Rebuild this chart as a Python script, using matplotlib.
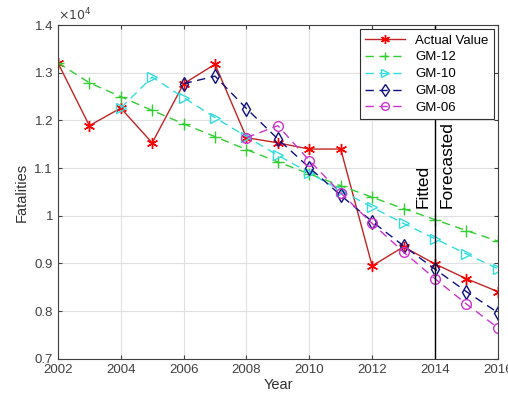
import numpy as np
import matplotlib
matplotlib.use('Agg')
import matplotlib.pyplot as plt
from matplotlib.ticker import FuncFormatter

plt.rcParams['font.family'] = ['Liberation Sans', 'DejaVu Sans']

# data (fatalities)
years = np.arange(2002, 2017)
actual = [13210, 11890, 12260, 11530, 12770, 13180, 11640, 11530, 11400, 11400,
          8950, 9350, 8990, 8680, 8410]

gm12_years = np.arange(2002, 2017)
gm12 = [13210, 12790, 12500, 12210, 11930, 11660, 11390, 11130, 10880, 10630,
        10390, 10150, 9920, 9690, 9470]

gm10_years = np.arange(2004, 2017)
gm10 = [12260, 12910, 12480, 12060, 11660, 11270, 10900, 10530, 10180, 9840,
        9520, 9200, 8890]

gm08_years = np.arange(2006, 2017)
gm08 = [12770, 12930, 12250, 11610, 11010, 10430, 9880, 9370, 8880, 8410, 7970]

gm06_years = np.arange(2008, 2017)
gm06 = [11640, 11890, 11160, 10480, 9840, 9240, 8680, 8150, 7650]

fig = plt.figure(figsize=(5.08, 4.05), dpi=100)
ax = fig.add_axes([0.114, 0.114, 0.866, 0.824])

ax.plot(years, actual, '-', color='#c02525', lw=1.0, marker=(6, 2, 0), ms=8,
        mew=1.0, mec='red', mfc='red', label='Actual Value')
ax.plot(gm12_years, gm12, '--', color='#33cc33', lw=1.0, marker='+', ms=8,
        mew=1.0, dashes=(6, 4), label='GM-12')
ax.plot(gm10_years, gm10, '--', color='#33dddd', lw=1.0, marker='>', ms=7,
        mfc='none', dashes=(6, 4), label='GM-10')
ax.plot(gm08_years, gm08, '--', color='#101080', lw=1.0, marker='d', ms=7.5,
        mfc='none', dashes=(6, 4), label='GM-08')
ax.plot(gm06_years, gm06, '--', color='#cc33cc', lw=1.0, marker='o', ms=7,
        mfc='none', dashes=(6, 4), label='GM-06')

# separator between fitted and forecasted
ax.axvline(2014, color='black', lw=1.0)
ax.text(2013.85, 10170, 'Fitted', rotation=90, ha='right', va='bottom', fontsize=12.5)
ax.text(2014.15, 10170, 'Forecasted', rotation=90, ha='left', va='bottom', fontsize=12.5)

ax.set_xlim(2002, 2016)
ax.set_ylim(7000, 14000)
ax.set_xticks(np.arange(2002, 2017, 2))
ax.set_yticks(np.arange(7000, 14001, 1000))
ax.yaxis.set_major_formatter(FuncFormatter(lambda v, p: '%g' % (v / 1e4)))
ax.text(0.0, 1.005, r'$\times 10^4$', transform=ax.transAxes, fontsize=9,
        color='#404040', ha='left', va='bottom')

ax.grid(True, color='#e0e0e0', lw=0.8)
ax.set_axisbelow(True)
ax.tick_params(direction='in', labelsize=9.5, colors='#404040', length=3,
               top=True, right=True)
for s in ax.spines.values():
    s.set_color('#404040')

ax.set_xlabel('Year', fontsize=10.5, color='#303030', labelpad=2)
ax.set_ylabel('Fatalities', fontsize=10.5, color='#303030', labelpad=4)

leg = ax.legend(loc='upper right', fontsize=9.5, fancybox=False, framealpha=1,
                edgecolor='#303030', handlelength=3.0, borderaxespad=0.3,
                labelspacing=0.35, markerscale=0.8)
leg.get_frame().set_linewidth(0.8)

fig.savefig('out.png', dpi=100)
